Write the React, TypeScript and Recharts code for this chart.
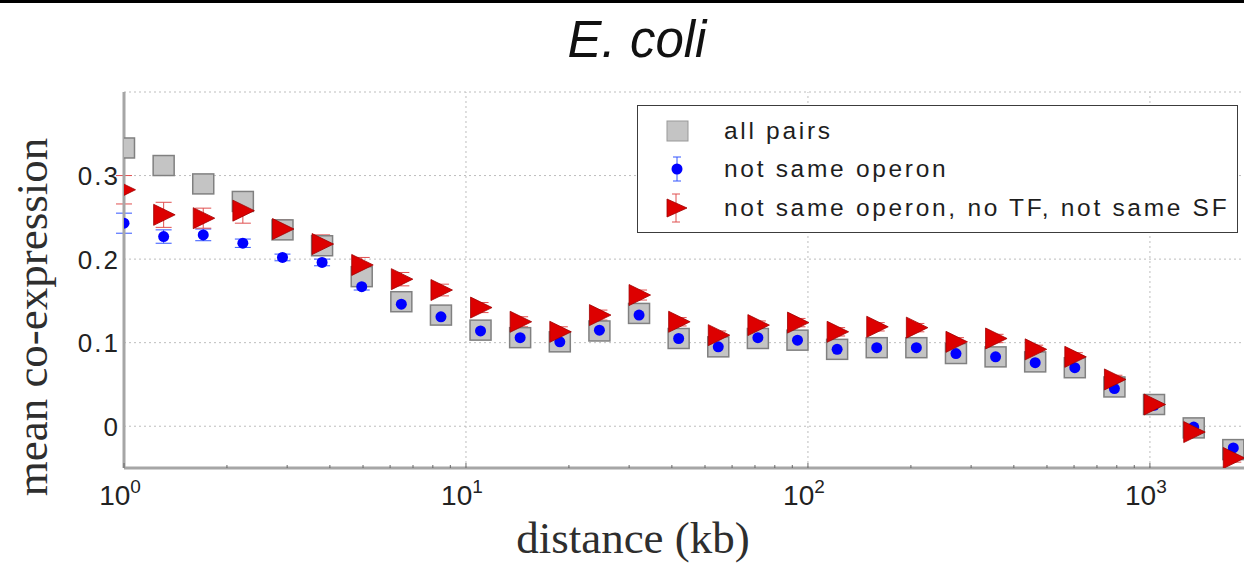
import React from "react";
import {
  ScatterChart,
  Scatter,
  XAxis,
  YAxis,
  CartesianGrid,
  ReferenceLine,
  ErrorBar,
  Legend,
} from "recharts";

// distance bins (kb)
const distances = [
  1, 1.306, 1.705, 2.226, 2.907, 3.795, 4.956, 6.471, 8.449, 11.03, 14.4, 18.81,
  24.56, 32.07, 41.87, 54.67, 71.38, 93.2, 121.7, 158.9, 207.5, 270.9, 353.7,
  461.8, 603, 787.4, 1028, 1343, 1753,
];

const allPairs = [
  0.333, 0.312, 0.29, 0.269, 0.235, 0.216, 0.179, 0.149, 0.133, 0.115, 0.106,
  0.101, 0.114, 0.135, 0.105, 0.095, 0.105, 0.103, 0.092, 0.094, 0.094, 0.087,
  0.083, 0.077, 0.07, 0.047, 0.026, -0.002, -0.028,
];

const notSameOperon = [
  0.243, 0.227, 0.229, 0.219, 0.202, 0.196, 0.167, 0.146, 0.131, 0.114, 0.106,
  0.101, 0.115, 0.133, 0.105, 0.095, 0.106, 0.103, 0.092, 0.094, 0.094, 0.087,
  0.083, 0.076, 0.07, 0.045, 0.025, -0.001, -0.026,
];
const notSameOperonErr = [
  0.012, 0.008, 0.007, 0.005, 0.004, 0.004, 0.004, 0.003, 0.003, 0.003, 0.003,
  0.003, 0.003, 0.003, 0.003, 0.003, 0.003, 0.003, 0.003, 0.003, 0.003, 0.003,
  0.003, 0.003, 0.003, 0.003, 0.003, 0.003, 0.003,
];

const noTfNoSf = [
  0.283, 0.253, 0.249, 0.258, 0.236, 0.218, 0.193, 0.176, 0.163, 0.142, 0.125,
  0.113, 0.133, 0.157, 0.125, 0.109, 0.121, 0.124, 0.113, 0.119, 0.118, 0.101,
  0.105, 0.092, 0.083, 0.056, 0.026, -0.007, -0.038,
];
const noTfNoSfErr = [
  0.017, 0.015, 0.012, 0.015, 0.011, 0.011, 0.009, 0.008, 0.007, 0.006, 0.006,
  0.006, 0.006, 0.006, 0.005, 0.005, 0.005, 0.005, 0.005, 0.005, 0.005, 0.005,
  0.005, 0.005, 0.005, 0.005, 0.005, 0.005, 0.005,
];

const decadeTicks = [1, 10, 100, 1000];
const decadeExponents = ["0", "1", "2", "3"];
const minorTicks = [
  2, 3, 4, 5, 6, 7, 8, 9, 20, 30, 40, 50, 60, 70, 80, 90, 200, 300, 400, 500,
  600, 700, 800, 900,
];
const yTicks = [0, 0.1, 0.2, 0.3];

const legendLabels = [
  "all pairs",
  "not same operon",
  "not same operon, no TF, not same SF",
];

const allPairsData = distances.map((x, i) => ({ x, y: allPairs[i] }));
const operonData = distances.map((x, i) => ({ x, y: notSameOperon[i], err: notSameOperonErr[i] }));
const tfData = distances.map((x, i) => ({ x, y: noTfNoSf[i], err: noTfNoSfErr[i] }));
const xTicks = [...decadeTicks, ...minorTicks].sort((a, b) => a - b);

const SANS = "'Liberation Sans', Arial, sans-serif";
const SERIF = "'Liberation Serif', 'Times New Roman', serif";

const SquareShape = (p: any) => (
  <rect x={p.cx - 10.5} y={p.cy - 10} width={21} height={20} fill="#c4c4c4" stroke="#808080" strokeWidth={1.5} />
);
const DotShape = (p: any) => <circle cx={p.cx} cy={p.cy} r={5.5} fill="#0000ff" />;
const TriangleShape = (p: any) => (
  <polygon
    points={`${p.cx - 10},${p.cy - 10.5} ${p.cx + 11.5},${p.cy} ${p.cx - 10},${p.cy + 10.5}`}
    fill="#dd0000"
    stroke="#a00000"
    strokeWidth={0.8}
  />
);

const BottomTick = (props: any) => {
  const { x, y, payload } = props;
  const idx = decadeTicks.indexOf(payload.value);
  return (
    <g>
      <line x1={x} y1={y - 2} x2={x} y2={y - (idx >= 0 ? 7 : 5)} stroke="#666" strokeWidth={1} />
      {idx >= 0 && (
        <text x={x - 4} y={y + 35} textAnchor="middle" fontFamily={SANS} fontSize={28} fill="#222">
          10
          <tspan dy={-12} fontSize={19}>
            {decadeExponents[idx]}
          </tspan>
        </text>
      )}
    </g>
  );
};

const TopTick = (props: any) => {
  const { x, y } = props;
  return <line x1={x} y1={y} x2={x} y2={y + 4} stroke="#666" strokeWidth={1} />;
};

const YTick = (props: any) => {
  const { x, y, payload } = props;
  return (
    <text x={x + 4} y={y + 9.5} textAnchor="end" fontFamily={SANS} fontSize={26} fill="#222" style={{ letterSpacing: 2 }}>
      {payload.value}
    </text>
  );
};

const LegendBox = () => {
  const rowTops = [6, 44, 83];
  return (
    <div
      style={{
        position: "relative",
        width: 601,
        height: 128,
        boxSizing: "border-box",
        border: "1.5px solid #3c3c3c",
        background: "#fff",
        fontFamily: SANS,
        fontSize: 24.5,
        letterSpacing: 2.7,
        color: "#1e1e1e",
      }}
    >
      {legendLabels.map((label, i) => (
        <div key={label} style={{ position: "absolute", left: 0, top: rowTops[i], height: 38, display: "flex", alignItems: "center" }}>
          <svg width={84} height={38} style={{ display: "block" }}>
            {i === 0 && <rect x={29} y={9} width={21} height={20} fill="#c4c4c4" stroke="#999" strokeWidth={1} />}
            {i === 1 && (
              <g stroke="#3355ff" strokeWidth={1}>
                <line x1={39} y1={7} x2={39} y2={31} />
                <line x1={35} y1={7} x2={43} y2={7} />
                <line x1={35} y1={31} x2={43} y2={31} />
                <circle cx={39} cy={19} r={5.5} fill="#0000ff" stroke="none" />
              </g>
            )}
            {i === 2 && (
              <g stroke="#e05050" strokeWidth={1}>
                <line x1={38} y1={5} x2={38} y2={33} />
                <line x1={34} y1={5} x2={42} y2={5} />
                <line x1={34} y1={33} x2={42} y2={33} />
                <polygon points="29,10 49,19 29,28" fill="#dd0000" stroke="#a00000" strokeWidth={0.8} />
              </g>
            )}
          </svg>
          <span style={{ marginLeft: 2, whiteSpace: "nowrap" }}>{label}</span>
        </div>
      ))}
    </div>
  );
};

export default function App() {
  return (
    <div style={{ position: "absolute", left: 0, top: 0, width: 1244, height: 564, background: "#fff", overflow: "hidden" }}>
      <div style={{ position: "absolute", left: 0, top: 0, width: 1244, height: 3, background: "#000" }} />
      <ScatterChart width={1244} height={564} margin={{ top: 92, right: 0, bottom: 0, left: 0 }}>
        <CartesianGrid vertical={false} stroke="#bdbdbd" strokeDasharray="2 3" />
        {decadeTicks.slice(1).map((d) => (
          <ReferenceLine key={d} x={d} stroke="#bdbdbd" strokeDasharray="2 3" />
        ))}
        <XAxis
          dataKey="x"
          type="number"
          scale="log"
          domain={[1, 1884]}
          allowDataOverflow
          ticks={xTicks}
          interval={0}
          height={96}
          tickSize={0}
          tickLine={false}
          axisLine={{ stroke: "#a6a6a6", strokeWidth: 3 }}
          tick={<BottomTick />}
        />
        <XAxis
          xAxisId="top"
          orientation="top"
          type="number"
          scale="log"
          domain={[1, 1884]}
          allowDataOverflow
          ticks={xTicks}
          interval={0}
          height={0}
          tickSize={0}
          tickLine={false}
          axisLine={{ stroke: "#555", strokeWidth: 1.5 }}
          tick={<TopTick />}
        />
        <YAxis
          dataKey="y"
          type="number"
          domain={[-0.05, 0.4]}
          allowDataOverflow
          ticks={yTicks}
          width={124}
          tickLine={false}
          axisLine={{ stroke: "#a6a6a6", strokeWidth: 3 }}
          tick={<YTick />}
        />
        <Scatter name="all pairs" data={allPairsData} shape={SquareShape} isAnimationActive={false} />
        <Scatter name="not same operon" data={operonData} shape={DotShape} isAnimationActive={false}>
          <ErrorBar dataKey="err" direction="y" width={8} stroke="#3355ff" strokeWidth={1} isAnimationActive={false} />
        </Scatter>
        <Scatter name="not same operon, no TF, not same SF" data={tfData} shape={TriangleShape} isAnimationActive={false}>
          <ErrorBar dataKey="err" direction="y" width={8} stroke="#e05050" strokeWidth={1} isAnimationActive={false} />
        </Scatter>
        <Legend
          layout="vertical"
          align="center"
          verticalAlign="middle"
          content={<LegendBox />}
          wrapperStyle={{ left: 637, top: 105, width: 601, height: 128 }}
        />
      </ScatterChart>
      <svg width={1244} height={564} style={{ position: "absolute", left: 0, top: 0, pointerEvents: "none" }}>
        <text x={637} y={57} textAnchor="middle" fontFamily={SANS} fontStyle="italic" fontSize={51} fill="#111">
          E. coli
        </text>
        <text x={633} y={553} textAnchor="middle" fontFamily={SERIF} fontSize={45} fill="#2e2e2e">
          distance (kb)
        </text>
        <text x={47} y={317} textAnchor="middle" fontFamily={SERIF} fontSize={45} fill="#2e2e2e" transform="rotate(-90 47 317)">
          mean co-expression
        </text>
      </svg>
    </div>
  );
}
